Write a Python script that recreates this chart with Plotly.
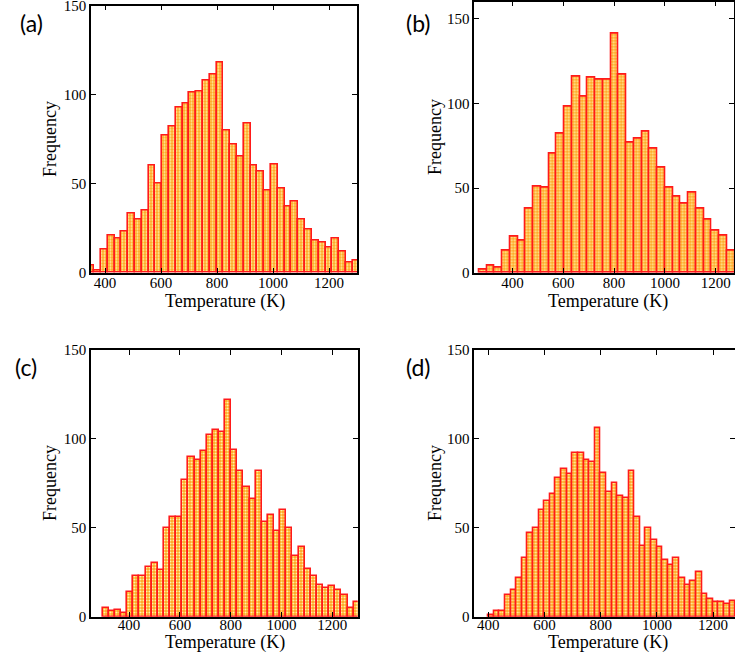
import plotly.graph_objects as go

# ---------------- data ----------------
a_counts = [4, 1, 13, 21, 19, 23, 33, 30, 35, 60, 50, 77, 82, 93, 95, 101, 102, 108, 111, 118,
            80, 72, 65, 84, 60, 57, 46, 61, 47, 37, 40, 30, 24, 18, 17, 14, 19, 12, 6, 7]
a_bin_start, a_bin_width = 337.0, 24.3

b_counts = [2, 4, 3, 13, 21, 19, 38, 51, 50, 70, 82, 98, 116, 104, 115, 114, 114, 141, 117,
            77, 79, 83, 73, 62, 50, 45, 41, 47, 38, 31, 25, 22, 13]
b_bin_start, b_bin_width = 269.5, 30.5

c_counts = [5, 3, 4, 2, 14, 23, 23, 28, 30, 26, 50, 56, 56, 77, 90, 88, 93, 102, 105, 104, 122,
            94, 82, 73, 66, 82, 53, 57, 48, 60, 50, 34, 39, 27, 23, 18, 16, 17, 15, 12, 5, 8]
c_bin_start, c_bin_width = 296.0, 24.1

d_counts = [1, 3, 3, 12, 15, 22, 33, 47, 50, 60, 65, 69, 78, 83, 80, 92, 92, 88, 87, 106,
            81, 70, 75, 68, 67, 82, 56, 40, 50, 43, 39, 32, 29, 33, 22, 18, 20, 25, 13, 10,
            8, 8, 7, 9]
d_bin_start, d_bin_width = 400.0, 20.0

x_ticks = [400, 600, 800, 1000, 1200]
y_ticks = [0, 50, 100, 150]
panel_labels = ["(a)", "(b)", "(c)", "(d)"]
x_title = "Temperature (K)"
y_title = "Frequency"

# ---------------- layout geometry (pixels) ----------------
W, H = 735, 655
def fx(px):
    return px / W
def fy(py):
    return 1 - py / H

panels = [
    dict(counts=a_counts, start=a_bin_start, width=a_bin_width, xr=[350, 1300], yr=[0, 150],
         xd=[fx(91), fx(357)], yd=[fy(272.7), fy(5.5)], lab=(32, 23),
         xt=(225, 301.5), yt=(50, 139), xso=-4),
    dict(counts=b_counts, start=b_bin_start, width=b_bin_width, xr=[250, 1272], yr=[0, 160],
         xd=[fx(474.3), fx(734)], yd=[fy(272.7), fy(1.7)], lab=(418, 23),
         xt=(608, 301.5), yt=(435, 137), xso=-4),
    dict(counts=c_counts, start=c_bin_start, width=c_bin_width, xr=[250, 1300], yr=[0, 150],
         xd=[fx(91), fx(357.7)], yd=[fy(616.7), fy(350)], lab=(26, 367),
         xt=(225, 642.5), yt=(50, 483), xso=-6),
    dict(counts=d_counts, start=d_bin_start, width=d_bin_width, xr=[350, 1278], yr=[0, 150],
         xd=[fx(474.3), 1.0], yd=[fy(616.7), fy(350)], lab=(418, 367),
         xt=(608, 642.5), yt=(435, 483), xso=-6),
]

serif = "Liberation Serif, Times New Roman, serif"
fig = go.Figure()
layout = dict(
    width=W, height=H, margin=dict(l=0, r=0, t=0, b=0, autoexpand=False),
    paper_bgcolor="white", plot_bgcolor="white",
    showlegend=False, bargap=0, barmode="overlay",
    font=dict(family=serif, size=15, color="black"),
    annotations=[],
)

for i, p in enumerate(panels):
    n = i + 1
    xa = "x" if n == 1 else f"x{n}"
    ya = "y" if n == 1 else f"y{n}"
    centers = [p["start"] + p["width"] * (k + 0.5) for k in range(len(p["counts"]))]
    fig.add_trace(go.Bar(
        x=centers, y=p["counts"], width=p["width"],
        xaxis=xa, yaxis=ya,
        marker=dict(
            color="#FFA51F",
            line=dict(color="#FF1A1A", width=1.6),
            pattern=dict(shape=".", fillmode="replace", bgcolor="#FFA51F",
                         fgcolor="#FFF3A8", size=3, solidity=0.4),
        ),
        hoverinfo="x+y",
    ))
    axis_common = dict(
        showline=True, linecolor="black", linewidth=1.5, mirror="ticks",
        ticks="inside", ticklen=5, tickwidth=1, tickcolor="black",
        showgrid=False, zeroline=False, ticklabeloverflow="allow",
        tickfont=dict(family=serif, size=15, color="black"),
    )
    layout["xaxis" if n == 1 else f"xaxis{n}"] = dict(
        axis_common, domain=p["xd"], range=p["xr"], anchor=ya,
        tickmode="array", tickvals=x_ticks, ticklabelstandoff=p["xso"],
    )
    layout["yaxis" if n == 1 else f"yaxis{n}"] = dict(
        axis_common, domain=p["yd"], range=p["yr"], anchor=xa,
        tickmode="array", tickvals=y_ticks,
    )
    layout["annotations"].append(dict(
        text=panel_labels[i], x=fx(p["lab"][0]), y=fy(p["lab"][1]),
        xref="paper", yref="paper", xanchor="center", yanchor="middle",
        showarrow=False, font=dict(family="Lato, Noto Sans, sans-serif", size=23, color="black"),
    ))
    layout["annotations"].append(dict(
        text=x_title, x=fx(p["xt"][0]), y=fy(p["xt"][1]),
        xref="paper", yref="paper", xanchor="center", yanchor="middle",
        showarrow=False, font=dict(family=serif, size=18, color="black"),
    ))
    layout["annotations"].append(dict(
        text=y_title, x=fx(p["yt"][0]), y=fy(p["yt"][1]), textangle=-90,
        xref="paper", yref="paper", xanchor="center", yanchor="middle",
        showarrow=False, font=dict(family=serif, size=18, color="black"),
    ))

fig.update_layout(**layout)
fig.write_html(
    "out.html",
    config={"displayModeBar": False},
    post_script="document.body.style.margin='0';document.body.style.overflow='hidden';",
)
